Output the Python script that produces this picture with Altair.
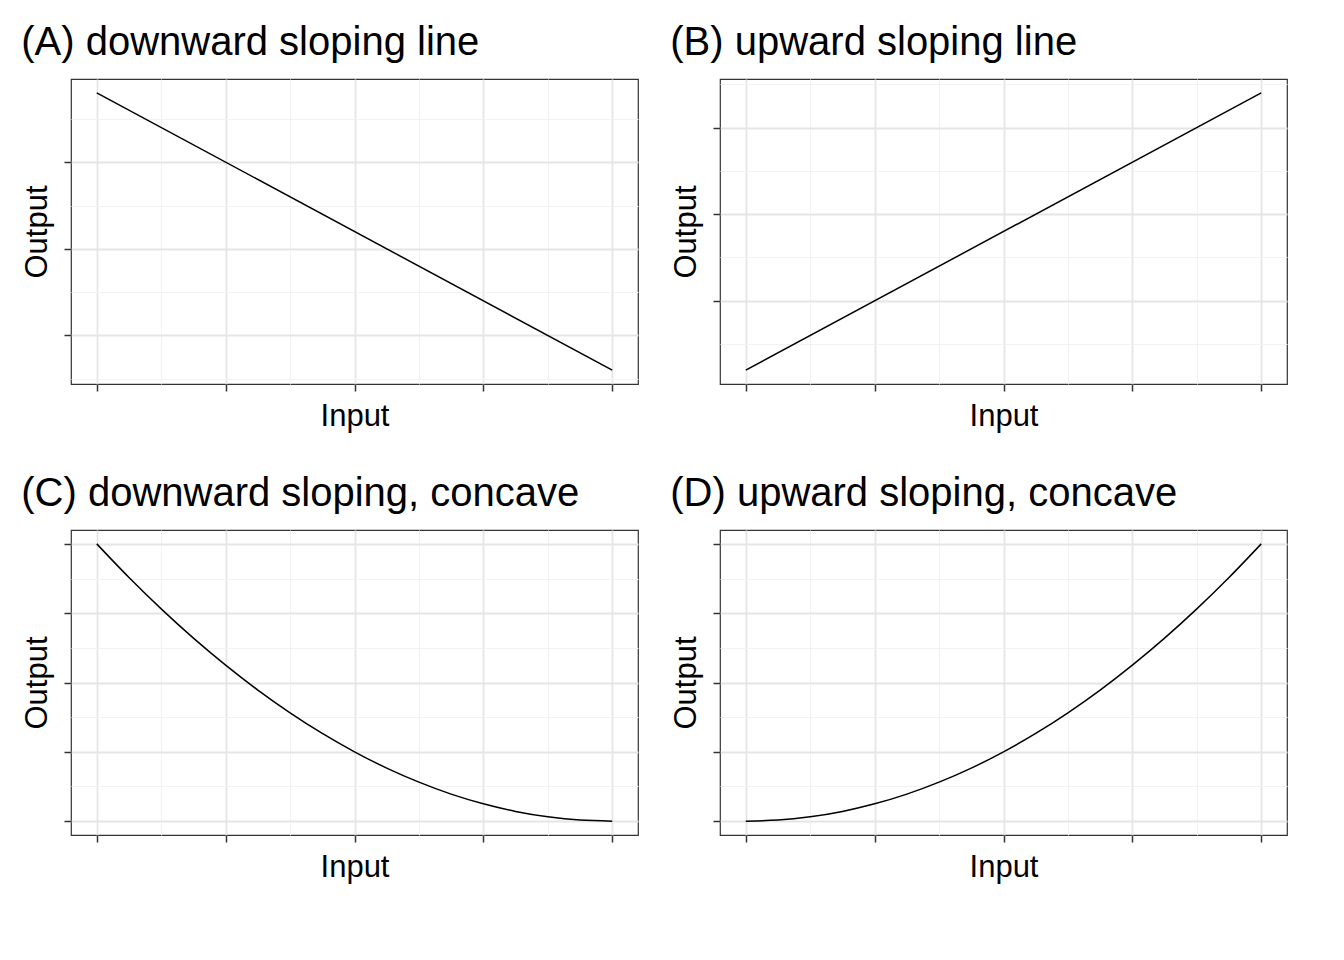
import altair as alt
import pandas as pd

# straight lines (A, B)
line_x = [0, 4]
down_line_y = [7.6, 1.2]
up_line_y = [0.4, 6.8]

# curves (C, D)
curve_x = [0, 0.25, 0.5, 0.75, 1, 1.25, 1.5, 1.75, 2, 2.25, 2.5, 2.75, 3, 3.25, 3.5, 3.75, 4]
down_curve_y = [16, 14.06, 12.25, 10.56, 9, 7.56, 6.25, 5.06, 4, 3.06, 2.25, 1.56, 1, 0.56, 0.25, 0.06, 0]
up_curve_y = [0, 0.06, 0.25, 0.56, 1, 1.56, 2.25, 3.06, 4, 5.06, 6.25, 7.56, 9, 10.56, 12.25, 14.06, 16]

x_vals = [0, 0.5, 1, 1.5, 2, 2.5, 3, 3.5, 4]

axis_style = dict(
    labels=False, domain=False,
    titleFont="Liberation Sans", titleFontSize=31, titleFontWeight="normal",
    titleColor="black", tickColor="#333333", tickSize=7, tickWidth=1.5, titlePadding=10,
)


def panel(title, xs, ys, ydomain, yvals, ystep):
    df = pd.DataFrame({"x": xs, "y": ys})
    x_axis = alt.Axis(
        values=x_vals, title="Input", **axis_style,
        gridColor={"condition": {"test": "datum.value % 1 !== 0", "value": "#f2f2f2"}, "value": "#e5e5e5"},
        gridWidth={"condition": {"test": "datum.value % 1 !== 0", "value": 1}, "value": 1.8},
        tickOpacity={"condition": {"test": "datum.value % 1 !== 0", "value": 0}, "value": 1},
    )
    test = f"datum.value % {ystep} !== 0"
    y_axis = alt.Axis(
        values=yvals, title="Output", **axis_style,
        gridColor={"condition": {"test": test, "value": "#f2f2f2"}, "value": "#e5e5e5"},
        gridWidth={"condition": {"test": test, "value": 1}, "value": 1.8},
        tickOpacity={"condition": {"test": test, "value": 0}, "value": 1},
    )
    return (
        alt.Chart(df)
        .mark_line(color="black", strokeWidth=1.5, interpolate="monotone")
        .encode(
            x=alt.X("x:Q", scale=alt.Scale(domain=[-0.2, 4.2], nice=False, zero=False), axis=x_axis),
            y=alt.Y("y:Q", scale=alt.Scale(domain=ydomain, nice=False, zero=False), axis=y_axis),
        )
        .properties(
            width=567, height=305,
            title=alt.TitleParams(title, anchor="start", fontSize=40, fontWeight="normal",
                                  font="Liberation Sans", limit=590, offset=16, color="black"),
        )
    )


a = panel("(A) downward sloping line", line_x, down_line_y, [0.88, 7.92], [1, 2, 3, 4, 5, 6, 7], 2)
b = panel("(B) upward sloping line", line_x, up_line_y, [0.08, 7.12], [1, 2, 3, 4, 5, 6, 7], 2)
c = panel("(C) downward sloping, concave", curve_x, down_curve_y, [-0.8, 16.8], [0, 2, 4, 6, 8, 10, 12, 14, 16], 4)
d = panel("(D) upward sloping, concave", curve_x, up_curve_y, [-0.8, 16.8], [0, 2, 4, 6, 8, 10, 12, 14, 16], 4)

chart = (
    alt.vconcat(alt.hconcat(a, b, spacing=30), alt.hconcat(c, d, spacing=30), spacing=40)
    .properties(padding={"left": 12, "top": 14, "right": 0, "bottom": 0}, background="white")
    .configure_view(stroke="#333333", strokeWidth=1.2)
)

chart.save("out.html", embed_options={"renderer": "svg", "actions": False})
